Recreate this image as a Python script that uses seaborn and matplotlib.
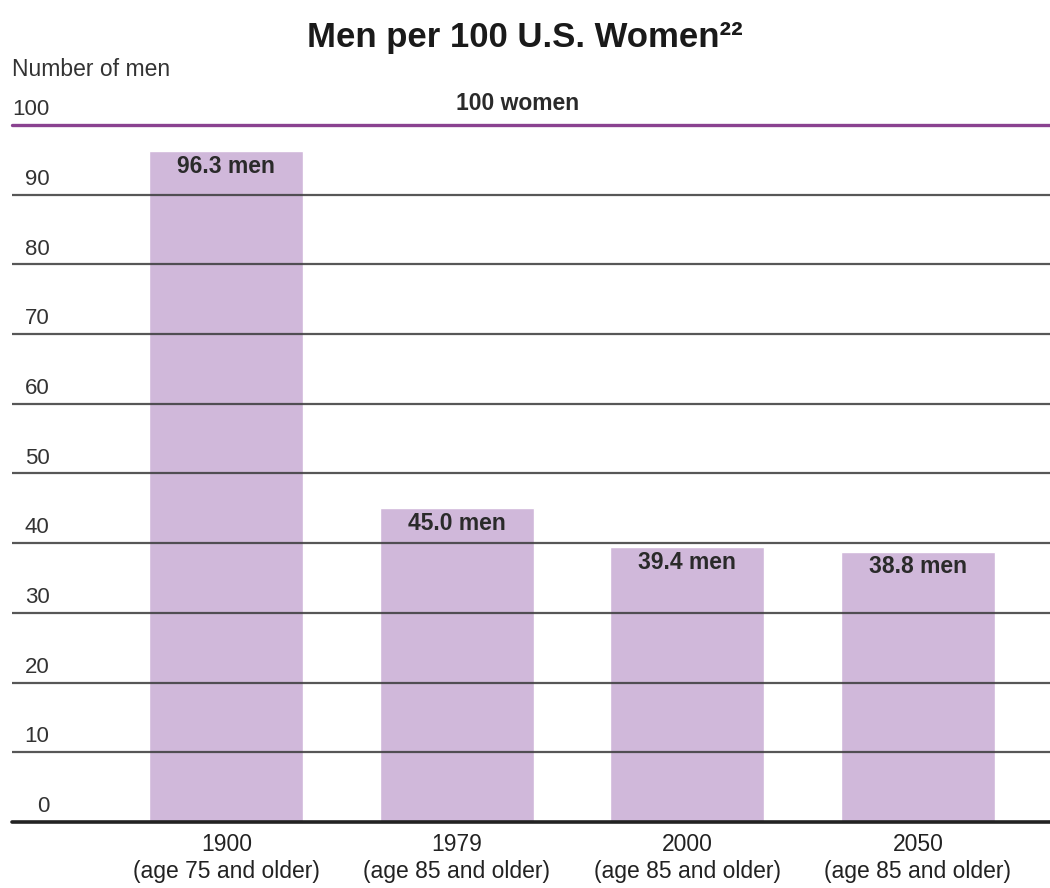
import numpy as np
import pandas as pd
import matplotlib
matplotlib.use("Agg")
import matplotlib.pyplot as plt
import matplotlib.transforms as mtransforms
import seaborn as sns

# --- dados ---
anos = ["1900", "1979", "2000", "2050"]
idades = ["(age 75 and older)", "(age 85 and older)", "(age 85 and older)", "(age 85 and older)"]
homens = [96.3, 45.0, 39.4, 38.8]
rotulos_barras = ["96.3 men", "45.0 men", "39.4 men", "38.8 men"]
yticks = [0, 10, 20, 30, 40, 50, 60, 70, 80, 90, 100]

df = pd.DataFrame({"categoria": [f"{a}\n{i}" for a, i in zip(anos, idades)],
                   "homens": homens})

sns.set_theme(style="white")
plt.rcParams["font.family"] = ["Liberation Sans", "DejaVu Sans"]

fig = plt.figure(figsize=(10.5, 8.88), dpi=100)
ax = fig.add_axes([12 / 1050, 1 - 822 / 888, 1038 / 1050, 697 / 888])

sns.barplot(data=df, x="categoria", y="homens", color="#d0b8da", saturation=1,
            width=0.668, ax=ax, zorder=1)

ax.set_ylim(0, 100)
ax.set_xlim(-0.93, 3.573)

# linhas de grade por cima das barras
for v in yticks[1:-1]:
    ax.axhline(v, color="#3a3a3a", lw=1.6, alpha=0.85, zorder=3)
ax.axhline(100, color="#8a4290", lw=2.4, zorder=3, clip_on=False)
ax.axhline(0, color="#222222", lw=2.6, zorder=4, clip_on=False)

for s in ax.spines.values():
    s.set_visible(False)
ax.set_yticks([])
ax.tick_params(axis="x", length=0, pad=8, labelsize=16.5, colors="#222222")
ax.set_xlabel("")
ax.set_ylabel("")

# rotulos do eixo y acima das linhas
trans = mtransforms.blended_transform_factory(ax.transAxes, ax.transData)
for v in yticks:
    ax.text(0.036, v + 2.2, str(v), transform=trans, ha="right", va="center",
            fontsize=16, color="#333333")

# rotulos nas barras
for i, (h, txt) in enumerate(zip(homens, rotulos_barras)):
    ax.text(i, h - 2.2, txt, ha="center", va="center", fontsize=16.5,
            fontweight="bold", color="#2a2a2a", zorder=5)

ax.text(0.487, 103.1, "100 women", transform=trans, ha="center", va="center",
        fontsize=16.5, fontweight="bold", color="#2a2a2a")

fig.text(12 / 1050, 1 - 70 / 888, "Number of men", ha="left", va="center",
         fontsize=16.5, color="#333333")
fig.text(0.5, 1 - 38 / 888, "Men per 100 U.S. Women²²", ha="center", va="center",
         fontsize=25, fontweight="bold", color="#1a1a1a")

fig.savefig("out.png", dpi=100)
